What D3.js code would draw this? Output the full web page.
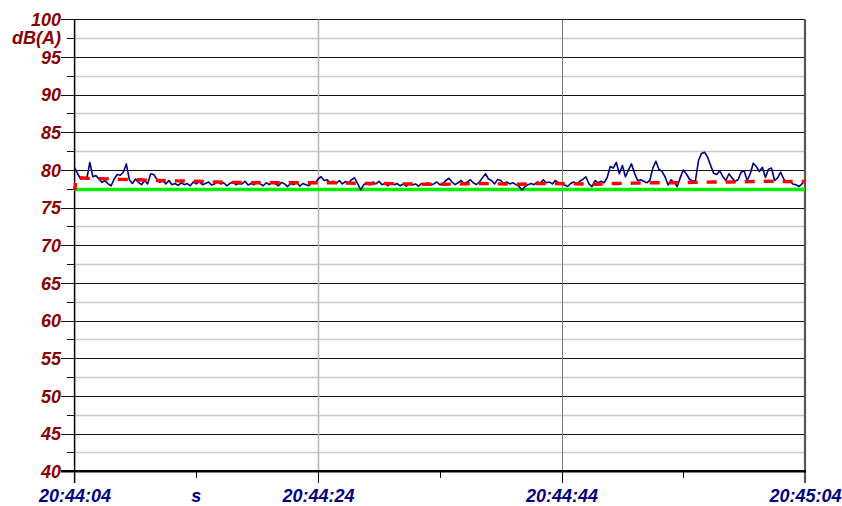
<!DOCTYPE html>
<html><head><meta charset="utf-8">
<script src="https://cdn.jsdelivr.net/npm/d3@7"></script>
<style>html,body{margin:0;padding:0;background:#fff;} svg{display:block;}</style>
</head><body><svg id="chart" width="842" height="506"></svg>
<script>
// ---- data ----
const xTickSeconds = [0, 20, 40, 60];
const xTickLabels = ["20:44:04", "20:44:24", "20:44:44", "20:45:04"];
const xMinorSeconds = [10, 30, 50];
const xUnitLabel = "s";
const xUnitSecond = 10;
const yTicks = [40, 45, 50, 55, 60, 65, 70, 75, 80, 85, 90, 95, 100];
const yMinorTicks = [42.5, 47.5, 52.5, 57.5, 62.5, 67.5, 72.5, 77.5, 82.5, 87.5, 92.5, 97.5];
const yUnitLabel = "dB(A)";
const sampleStep = 0.25; // seconds between LA samples
const laValues = [
  80.3,79.5,78.8,78.9,78.8,81.0,79.1,79.25,78.8,78.35,
  78.6,78.15,77.9,78.8,79.4,79.3,79.7,80.8,78.7,78.2,
  78.8,78.35,78.05,78.6,78.15,79.5,79.4,78.8,78.35,78.6,
  78.15,78.6,78.05,78.2,77.95,78.3,78.05,78.2,77.9,78.4,
  78.15,78.45,78.05,78.2,78.4,78.0,78.15,78.5,78.15,78.3,
  77.9,78.2,78.4,78.05,78.2,78.15,78.5,78.0,78.2,78.05,
  78.4,78.15,77.9,78.3,78.05,78.45,78.15,77.9,78.35,78.15,
  77.8,78.2,78.05,78.4,77.85,78.2,78.05,77.9,78.4,78.2,
  78.8,79.1,78.6,78.7,78.3,78.5,78.2,78.6,78.15,78.45,
  78.3,78.7,78.95,78.2,77.35,78.05,78.3,78.0,78.4,78.15,
  78.5,78.05,78.2,77.9,78.3,78.05,78.2,77.9,78.15,77.85,
  78.2,78.0,78.15,77.85,78.2,78.05,78.3,78.0,78.15,78.4,
  78.05,78.2,78.6,78.9,78.4,78.05,78.3,78.6,78.2,78.4,
  78.7,78.3,78.05,78.4,78.95,79.5,78.8,78.6,78.15,78.75,
  78.6,78.2,78.4,78.15,78.3,78.05,77.85,77.35,77.8,78.05,
  78.2,78.05,78.4,78.2,78.7,78.3,78.4,78.15,78.6,78.3,
  78.15,78.0,77.8,78.2,78.4,78.15,78.5,78.75,79.1,78.15,
  77.8,78.6,78.3,78.5,78.3,79.0,80.45,80.25,81.0,79.5,
  80.6,79.1,80.0,80.8,79.55,78.6,78.7,78.5,78.3,78.6,
  80.25,81.15,80.1,79.8,79.1,78.0,78.7,78.35,77.8,78.95,
  80.0,79.5,78.8,78.5,78.6,81.25,82.2,82.35,81.7,80.6,
  79.55,79.4,79.9,79.1,78.6,79.5,78.95,78.5,78.7,79.7,
  79.9,78.6,79.5,80.9,80.45,79.8,80.35,79.0,80.1,80.25,
  78.6,78.95,79.7,78.8,78.35,78.5,78.15,78.05,77.8,78.15,
  78.6
];
const leqTimes = [0,0.15,1,2.2,3.8,5.3,6.8,8.4,10,11.6,13.2,14.7,16.2,17.8,19.4,21.1,22.4,24.1,25.6,27.2,28.7,30.4,31.9,33.5,35,36.6,38,39.7,41.1,42.8,44.4,46,47.6,49.1,50.8,52.4,53.9,55.4,57,58.5,60];
const leqValues = [77.3,79.0,78.9,78.85,78.75,78.7,78.6,78.55,78.5,78.4,78.35,78.3,78.3,78.3,78.3,78.3,78.25,78.2,78.2,78.15,78.1,78.1,78.15,78.2,78.15,78.1,78.2,78.2,78.15,78.1,78.2,78.25,78.3,78.3,78.35,78.4,78.4,78.45,78.5,78.45,78.5];
const l90Times = [0, 60];
const l90Values = [77.4, 77.4];

// ---- chart ----
const svg = d3.select("#chart");
const x = d3.scaleLinear().domain([0, 60]).range([74.6, 805]);
const y = d3.scaleLinear().domain([40, 100]).range([471.3, 19.3]);
const px = v => Math.round(v) + 0.5;
const font = "'Liberation Sans', Arial, sans-serif";

const grid = svg.append("g");
grid.selectAll(".ymin").data(yMinorTicks).join("line")
  .attr("x1", x(0)).attr("x2", x(60))
  .attr("y1", d => px(y(d))).attr("y2", d => px(y(d)))
  .attr("stroke", "#c8c8c8").attr("stroke-width", 1.5);
grid.selectAll(".ymint").data(yMinorTicks).join("line")
  .attr("x1", 67).attr("x2", x(0))
  .attr("y1", d => px(y(d))).attr("y2", d => px(y(d)))
  .attr("stroke", "#000").attr("stroke-width", 1);
grid.selectAll(".ymaj").data(yTicks.filter(d => d > 40)).join("line")
  .attr("x1", 61).attr("x2", x(60))
  .attr("y1", d => px(y(d))).attr("y2", d => px(y(d)))
  .attr("stroke", "#111").attr("stroke-width", 1);
grid.append("line").attr("x1", px(x(20))).attr("x2", px(x(20)))
  .attr("y1", y(100)).attr("y2", y(40)).attr("stroke", "#b4b4b4").attr("stroke-width", 1.5);
grid.append("line").attr("x1", px(x(40))).attr("x2", px(x(40)))
  .attr("y1", y(100)).attr("y2", y(40)).attr("stroke", "#7a7a7a").attr("stroke-width", 1);
grid.selectAll(".xmaj").data(xTickSeconds.slice(1, 3)).join("line")
  .attr("x1", d => px(x(d))).attr("x2", d => px(x(d)))
  .attr("y1", y(40)).attr("y2", 483).attr("stroke", "#000").attr("stroke-width", 1);
grid.selectAll(".xmin").data(xMinorSeconds).join("line")
  .attr("x1", d => px(x(d))).attr("x2", d => px(x(d)))
  .attr("y1", y(40)).attr("y2", 478).attr("stroke", "#000").attr("stroke-width", 1);
grid.append("line").attr("x1", x(60)).attr("x2", x(60))
  .attr("y1", y(100)).attr("y2", 483).attr("stroke", "#555").attr("stroke-width", 2.2);
grid.append("line").attr("x1", x(0)).attr("x2", x(0))
  .attr("y1", y(100)).attr("y2", 483).attr("stroke", "#000").attr("stroke-width", 1.5);
grid.append("line").attr("x1", 61).attr("x2", x(60) + 1)
  .attr("y1", y(40)).attr("y2", y(40)).attr("stroke", "#000").attr("stroke-width", 2.6);

// ---- series ----
const g = svg.append("g");
const l90Line = d3.line().x((d, i) => x(l90Times[i])).y(d => y(d));
g.append("path").datum(l90Values).attr("d", l90Line)
  .attr("fill", "none").attr("stroke", "#00ee00").attr("stroke-width", 3.6);

const laLine = d3.line().x((d, i) => x(i * sampleStep)).y(d => y(d));
g.append("path").datum(laValues).attr("d", laLine)
  .attr("fill", "none").attr("stroke", "#000080").attr("stroke-width", 1.6)
  .attr("stroke-linejoin", "round");

const leqLine = d3.line().x((d, i) => x(leqTimes[i])).y(d => y(d));
g.append("path").datum(leqValues).attr("d", leqLine)
  .attr("fill", "none").attr("stroke", "#ff0000").attr("stroke-width", 3.4)
  .attr("stroke-dasharray", "10,9").attr("stroke-dashoffset", 2.6);

// ---- labels ----
const yAxis = d3.axisLeft(y).tickValues(yTicks).tickSize(0).tickPadding(0).tickFormat(d3.format("d"));
const ya = svg.append("g").attr("transform", "translate(61,0)").call(yAxis);
ya.select(".domain").remove();
ya.selectAll("text").attr("fill", "#8b0000").attr("font-family", font)
  .attr("font-size", 18).attr("font-weight", "bold").attr("font-style", "italic")
  .attr("x", 0).attr("dy", "0.35em").attr("text-anchor", "end");
svg.append("text").attr("x", 61).attr("y", y(97.5)).attr("dy", "0.35em")
  .attr("text-anchor", "end").attr("fill", "#8b0000").attr("font-family", font)
  .attr("font-size", 18).attr("font-weight", "bold").attr("font-style", "italic")
  .text(yUnitLabel);

const xAxis = d3.axisBottom(x).tickValues(xTickSeconds).tickSize(0).tickPadding(0)
  .tickFormat((d, i) => xTickLabels[i]);
const xa = svg.append("g").call(xAxis);
xa.select(".domain").remove();
xa.selectAll("text").attr("fill", "#000080").attr("font-family", font)
  .attr("font-size", 18).attr("font-weight", "bold").attr("font-style", "italic")
  .attr("y", 502).attr("dy", null).attr("text-anchor", "middle");
svg.append("text").attr("x", x(xUnitSecond)).attr("y", 502).attr("text-anchor", "middle")
  .attr("fill", "#000080").attr("font-family", font)
  .attr("font-size", 18).attr("font-weight", "bold").attr("font-style", "italic")
  .text(xUnitLabel);
</script>
</body></html>
